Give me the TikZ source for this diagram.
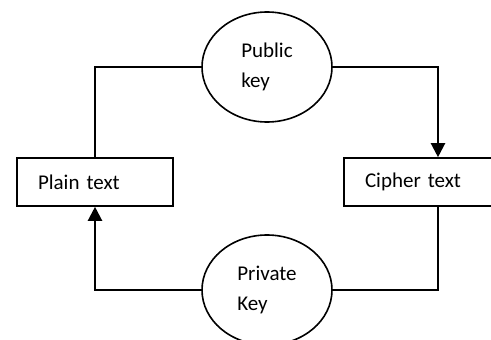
\documentclass[tikz,border=0pt]{standalone}
\usepackage{fontspec}
\setmainfont{Carlito}
\usetikzlibrary{arrows.meta,shapes.geometric}

\begin{document}
\begin{tikzpicture}[x=1pt,y=-1pt,>={Triangle[length=14pt,width=14pt]},line join=miter,
  keynode/.style={ellipse,draw,line width=1.6pt,minimum width=130pt,minimum height=110pt,inner sep=0pt,align=left,font=\fontsize{21}{30}\selectfont},
  textbox/.style={rectangle,draw,line width=1.6pt,minimum height=48pt,inner ysep=0pt,inner xsep=21pt,text width=#1,align=left,font=\fontsize{21}{30}\selectfont},
  link/.style={line width=1.6pt},
  arrowlink/.style={->,line width=2.2pt}]
  \clip (0,0) rectangle (491,340);
  % keys
  \node[keynode] (pub) at (267,67) {Public\\key};
  \node[keynode] (priv) at (267,290) {Private\\Key};
  % texts
  \node[textbox=114pt] (plain) at (95,182) {Plain text};
  \node[textbox=146pt] (cipher) at (438,182) {Cipher text};
  % connectors
  \draw[link] (pub.west) -| (plain.north);
  \draw[arrowlink] (pub.east) -| (cipher.north);
  \draw[link] (cipher.south) |- (priv.east);
  \draw[arrowlink] (priv.west) -| (plain.south);
\end{tikzpicture}
\end{document}
